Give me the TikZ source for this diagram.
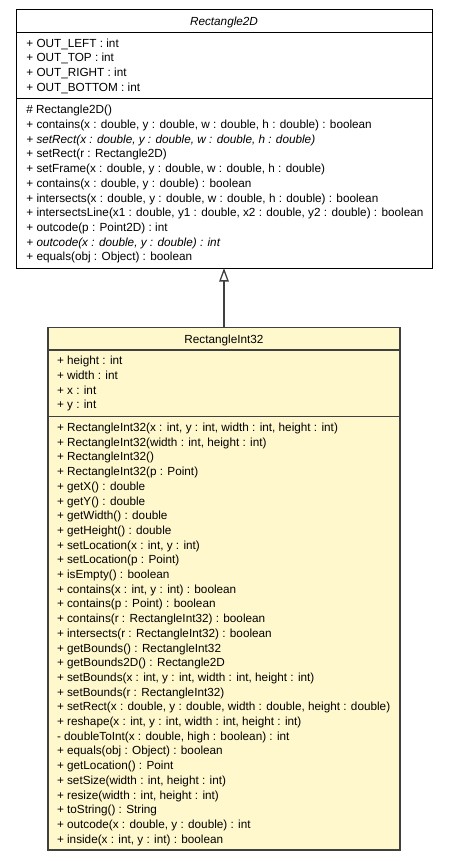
\documentclass[tikz,border=0pt]{standalone}
\usepackage{fontspec}
\setmainfont{Liberation Sans}
\usetikzlibrary{arrows.meta}
\definecolor{uyellow}{HTML}{FFF8CC}
\definecolor{ugray}{HTML}{404040}
\begin{document}
\begin{tikzpicture}[x=1pt,y=-1pt,
  txt/.style={anchor=base west, inner sep=0pt, font=\fontsize{11.75}{14}\selectfont},
  ttl/.style={anchor=base, inner sep=0pt, font=\fontsize{11.75}{14}\selectfont},
  cls/.style={anchor=north west, inner sep=0pt, outer sep=0pt}]
\useasboundingbox (0,0) rectangle (448,861);
% Rectangle2D
\node[cls, draw=black, line width=1pt, fill=white, minimum width=416pt, minimum height=258.5pt] (r2d) at (16,9.5) {};
\draw[line width=1pt] (16,32.5) -- (432,32.5);
\draw[line width=1pt] (16,99) -- (432,99);
\node[ttl, font=\fontsize{11.75}{14}\selectfont\itshape] (r2dt) at (224,25.3) {Rectangle2D};
\foreach \t [count=\i] in {
  {+ OUT\_LEFT : int},
  {+ OUT\_TOP : int},
  {+ OUT\_RIGHT : int},
  {+ OUT\_BOTTOM : int}}
  { \node[txt] (r2da\i) at (26.2,{47.3+14.7*(\i-1)}) {\t}; }
\foreach \t [count=\i] in {
  {\# Rectangle2D()},
  {+ contains(x : double, y : double, w : double, h : double) : boolean},
  {\itshape + setRect(x : double, y : double, w : double, h : double)},
  {+ setRect(r : Rectangle2D)},
  {+ setFrame(x : double, y : double, w : double, h : double)},
  {+ contains(x : double, y : double) : boolean},
  {+ intersects(x : double, y : double, w : double, h : double) : boolean},
  {+ intersectsLine(x1 : double, y1 : double, x2 : double, y2 : double) : boolean},
  {+ outcode(p : Point2D) : int},
  {\itshape + outcode(x : double, y : double) : int},
  {+ equals(obj : Object) : boolean}}
  { \node[txt] (r2dm\i) at (26.2,{113.8+14.7*(\i-1)}) {\t}; }
% RectangleInt32
\node[cls, draw=ugray, line width=1.3pt, fill=uyellow, minimum width=352pt, minimum height=522.5pt] (ri) at (48,327.5) {};
\draw[ugray, line width=1.3pt] (48,350) -- (400,350);
\draw[ugray, line width=1.3pt] (48,416.5) -- (400,416.5);
\node[ttl] (rit) at (224,343.3) {RectangleInt32};
\foreach \t [count=\i] in {
  {+ height : int},
  {+ width : int},
  {+ x : int},
  {+ y : int}}
  { \node[txt] (ria\i) at (56.8,{364.8+14.7*(\i-1)}) {\t}; }
\foreach \t [count=\i] in {
  {+ RectangleInt32(x : int, y : int, width : int, height : int)},
  {+ RectangleInt32(width : int, height : int)},
  {+ RectangleInt32()},
  {+ RectangleInt32(p : Point)},
  {+ getX() : double},
  {+ getY() : double},
  {+ getWidth() : double},
  {+ getHeight() : double},
  {+ setLocation(x : int, y : int)},
  {+ setLocation(p : Point)},
  {+ isEmpty() : boolean},
  {+ contains(x : int, y : int) : boolean},
  {+ contains(p : Point) : boolean},
  {+ contains(r : RectangleInt32) : boolean},
  {+ intersects(r : RectangleInt32) : boolean},
  {+ getBounds() : RectangleInt32},
  {+ getBounds2D() : Rectangle2D},
  {+ setBounds(x : int, y : int, width : int, height : int)},
  {+ setBounds(r : RectangleInt32)},
  {+ setRect(x : double, y : double, width : double, height : double)},
  {+ reshape(x : int, y : int, width : int, height : int)},
  {- doubleToInt(x : double, high : boolean) : int},
  {+ equals(obj : Object) : boolean},
  {+ getLocation() : Point},
  {+ setSize(width : int, height : int)},
  {+ resize(width : int, height : int)},
  {+ toString() : String},
  {+ outcode(x : double, y : double) : int},
  {+ inside(x : int, y : int) : boolean}}
  { \node[txt] (rim\i) at (56.8,{431.5+14.7*(\i-1)}) {\t}; }
% generalization
\draw[ugray, line width=1.3pt, -{Triangle[open, length=13.5pt, width=9.5pt, fill=white]}] (ri.north) -- (r2d.south);
\end{tikzpicture}
\end{document}
